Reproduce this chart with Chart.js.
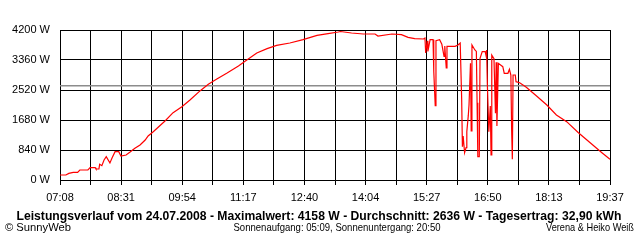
<!DOCTYPE html>
<html>
<head>
<meta charset="utf-8">
<script src="https://cdn.jsdelivr.net/npm/chart.js@4/dist/chart.umd.min.js"></script>
<style>
  html, body { margin: 0; padding: 0; background: #fff; }
</style>
</head>
<body>
<canvas id="chart" width="640" height="240"></canvas>
<script>
// samples (time of day, watts)
const sampleTimes = [
  "07:08", "07:16", "07:20", "07:26", "07:32", "07:35", "07:46", "07:49", "07:56", "07:57",
  "08:01", "08:02", "08:05", "08:08", "08:11", "08:12", "08:16", "08:19", "08:23", "08:28",
  "08:31", "08:38", "08:43", "08:50", "08:57", "09:04", "09:08", "09:15", "09:31", "09:42",
  "09:54", "10:05", "10:19", "10:30", "10:41", "10:55", "11:11", "11:20", "11:36", "11:50",
  "12:03", "12:21", "12:39", "12:58", "13:13", "13:27", "13:30", "13:45", "14:01", "14:17",
  "14:21", "14:40", "14:53", "15:02", "15:11", "15:23", "15:25", "15:26", "15:28", "15:29",
  "15:32", "15:36", "15:37", "15:39", "15:40", "15:45", "15:48", "15:51", "15:52", "15:54",
  "15:55", "16:06", "16:10", "16:13", "16:15", "16:16", "16:17", "16:19", "16:21", "16:22",
  "16:24", "16:25", "16:27", "16:28", "16:29", "16:33", "16:35", "16:36", "16:37", "16:39",
  "16:40", "16:43", "16:47", "16:48", "16:49", "16:50", "16:52", "16:54", "16:55", "16:56",
  "16:59", "17:01", "17:02", "17:03", "17:05", "17:11", "17:13", "17:18", "17:20", "17:22",
  "17:23", "17:24", "17:25", "17:28", "17:29", "17:34", "17:43", "17:57", "18:11", "18:24",
  "18:38", "18:54", "19:10", "19:26", "19:37"
];
const powerW = [
  140, 140, 186, 215, 215, 280, 280, 345, 345, 308,
  308, 440, 400, 560, 653, 653, 476, 620, 793, 793,
  672, 700, 775, 887, 980, 1120, 1232, 1353, 1652, 1885,
  2053, 2240, 2501, 2679, 2819, 2987, 3192, 3323, 3556, 3677,
  3771, 3836, 3929, 4051, 4097, 4144, 4158, 4116, 4088, 4088,
  4032, 4088, 4069, 3995, 3957, 3948, 3976, 3556, 3900, 3600,
  3929, 3929, 3043, 2081, 3900, 3929, 3800, 3463, 3752, 3136,
  3743, 3743, 3780, 3836, 2268, 933, 1232, 765, 905, 1353,
  1801, 2100, 3267, 1372, 3780, 3640, 3600, 2165, 653, 653,
  3407, 3593, 3593, 3500, 3640, 2660, 1353, 2072, 700, 3500,
  3400, 1867, 3300, 1512, 3267, 3173, 2987, 2987, 3099, 2940,
  1447, 579, 2940, 2940, 2753, 2725, 2595, 2352, 2100, 1820,
  1633, 1325, 1045, 765, 579
];
const averageW = 2636;
const yMax = 4200;
const yStep = 840;
const xTickLabels = ["07:08", "08:31", "09:54", "11:17", "12:40", "14:04", "15:27", "16:50", "18:13", "19:37"];

const titleText = "Leistungsverlauf vom 24.07.2008 - Maximalwert: 4158 W - Durchschnitt: 2636 W - Tagesertrag: 32,90 kWh";
const footerLeft = "\u00A9 SunnyWeb";
const footerMid = "Sonnenaufgang: 05:09, Sonnenuntergang: 20:50";
const footerRight = "Verena & Heiko Wei\u00DF";

const FONT = "'Liberation Sans', Arial, sans-serif";

function toMinutes(t) {
  const [h, m] = t.split(":").map(Number);
  return h * 60 + m;
}

const xStart = toMinutes(xTickLabels[0]);
const xEnd = toMinutes(xTickLabels[xTickLabels.length - 1]);
const gridSteps = (xTickLabels.length - 1) * 2;

const powerPoints = sampleTimes.map((t, i) => ({ x: toMinutes(t), y: powerW[i] }));
const averagePoints = [{ x: xStart, y: averageW }, { x: xEnd, y: averageW }];

// squeeze or stretch a text so it spans the given width
function fitText(ctx, text, x, y, width, align) {
  const w = ctx.measureText(text).width;
  ctx.save();
  let left = x;
  if (align === "center") left = x - width / 2;
  if (align === "right") left = x - width;
  ctx.translate(left, y);
  ctx.scale(width / w, 1);
  ctx.textAlign = "left";
  ctx.fillText(text, 0, 0);
  ctx.restore();
}

const captionPlugin = {
  id: "captions",
  afterDraw(chart) {
    const ctx = chart.ctx;
    ctx.save();
    ctx.fillStyle = "#000";
    ctx.textBaseline = "alphabetic";
    ctx.font = "bold 12px " + FONT;
    fitText(ctx, titleText, 319, 219.5, 605, "center");
    ctx.font = "11px " + FONT;
    fitText(ctx, footerLeft, 5, 231, 66, "left");
    fitText(ctx, footerMid, 337, 231, 207, "center");
    fitText(ctx, footerRight, 634, 231, 88, "right");
    ctx.restore();
  }
};

const chart = new Chart(document.getElementById("chart"), {
  type: "line",
  data: {
    datasets: [
      {
        label: "Leistung",
        data: powerPoints,
        borderColor: "#ff0000",
        borderWidth: 1.2,
        pointRadius: 0,
        tension: 0,
        order: 1,
      },
      {
        label: "Durchschnitt",
        data: averagePoints,
        borderColor: "#8c8c8c",
        borderWidth: 1.5,
        pointRadius: 0,
        order: 2,
      },
    ],
  },
  options: {
    responsive: false,
    animation: false,
    devicePixelRatio: 1,
    layout: { padding: { top: 30, right: 30, left: 0, bottom: 0 } },
    plugins: {
      legend: { display: false },
      tooltip: { enabled: false },
    },
    scales: {
      x: {
        type: "linear",
        min: xStart,
        max: xEnd,
        afterBuildTicks: (scale) => {
          const ticks = [];
          for (let i = 0; i <= gridSteps; i++) {
            ticks.push({ value: xStart + (i * (xEnd - xStart)) / gridSteps });
          }
          scale.ticks = ticks;
        },
        afterFit: (scale) => { scale.height = 60; },
        ticks: {
          autoSkip: false,
          maxRotation: 0,
          color: "#000",
          padding: 6,
          font: { family: FONT, size: 11 },
          callback: (v, i) => (i % 2 === 0 ? xTickLabels[i / 2] : ""),
        },
        grid: { color: "#000", lineWidth: 1, tickLength: 5 },
        border: { color: "#000" },
      },
      y: {
        min: 0,
        max: yMax,
        afterFit: (scale) => { scale.width = 60; },
        ticks: {
          stepSize: yStep,
          color: "#000",
          padding: 10,
          font: { family: FONT, size: 11 },
          callback: (v) => v + " W",
        },
        grid: { color: "#000", lineWidth: 1, drawTicks: false },
        border: { color: "#000" },
      },
    },
  },
  plugins: [captionPlugin],
});
</script>
</body>
</html>
